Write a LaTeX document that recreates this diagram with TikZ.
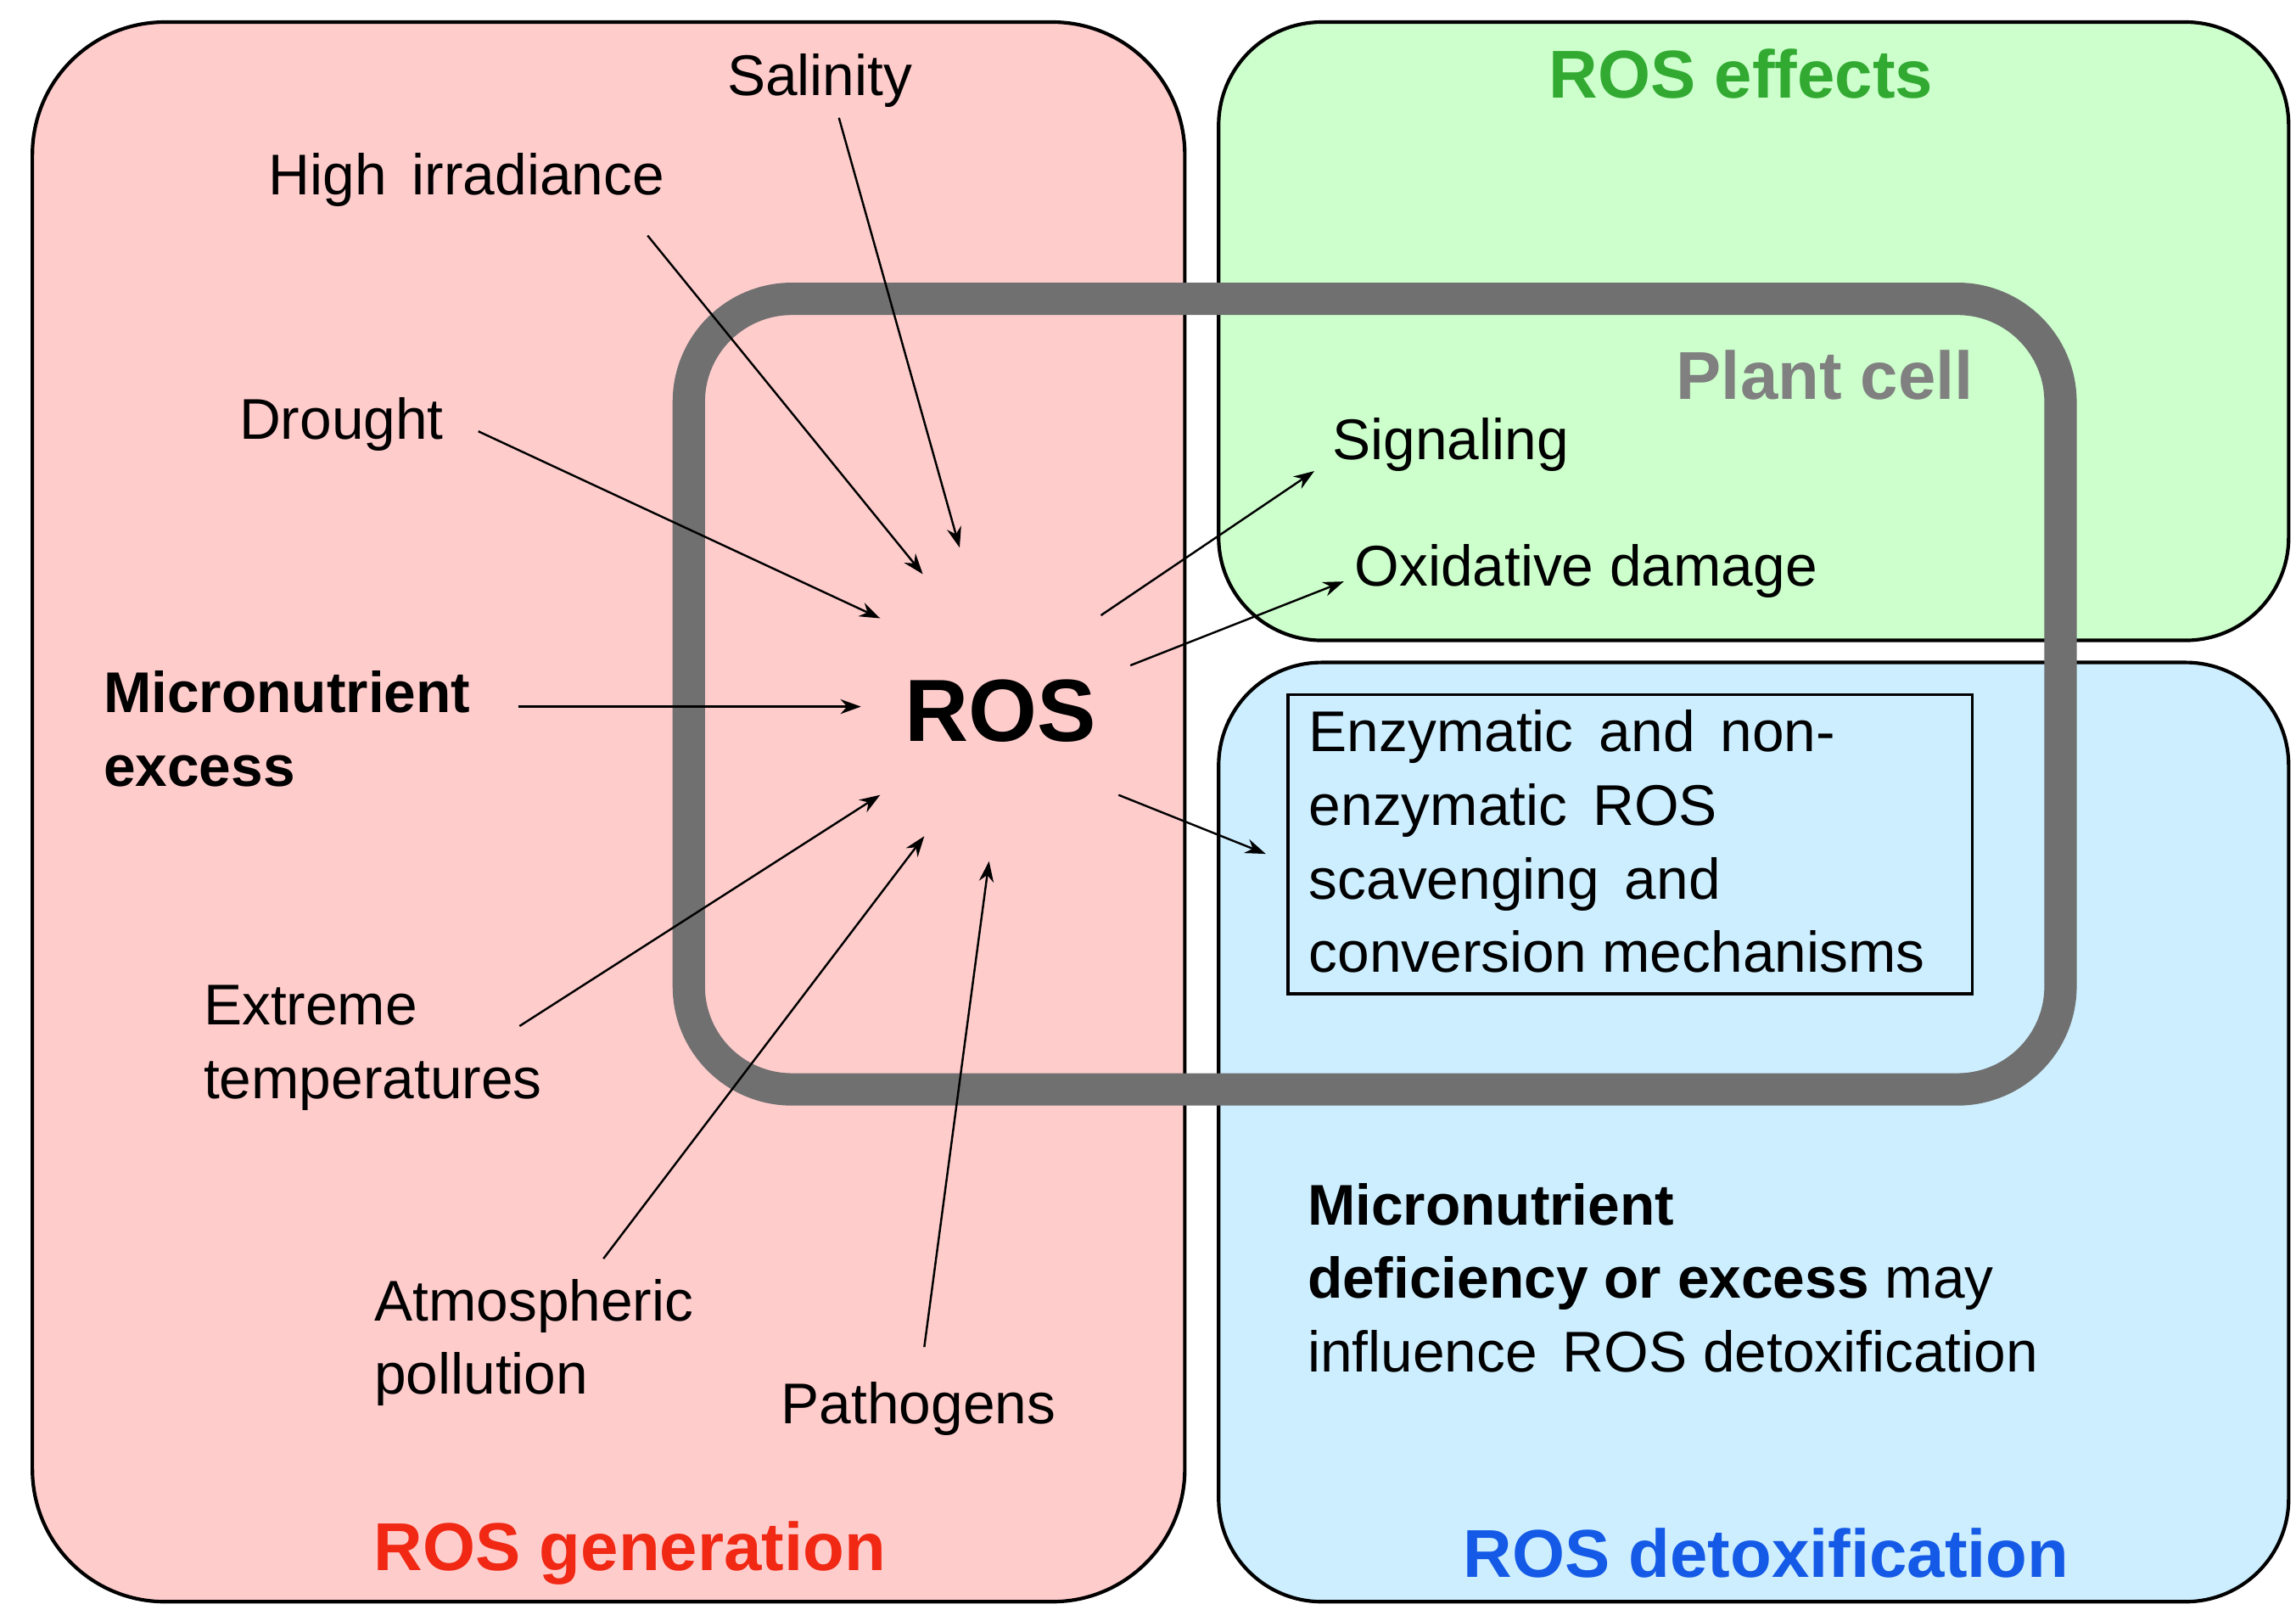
\documentclass[tikz,border=0pt]{standalone}
\usepackage{fontspec}
\setmainfont{Liberation Sans}
\usetikzlibrary{arrows.meta}
\begin{document}
\begin{tikzpicture}[x=0.5pt,y=-0.5pt,
  lbl/.style={font=\fontsize{19.5}{25}\selectfont,inner sep=0pt,align=left},
  ttl/.style={font=\fontsize{23}{26}\selectfont\bfseries,inner sep=0pt},
  arr/.style={-{Stealth[length=7pt,width=5pt]},line width=0.7pt}]
\useasboundingbox (0,0) rectangle (1560,1101);
\draw[fill={rgb,255:red,255;green,204;blue,204},line width=1.2pt,rounded corners=45pt] (22,15) rectangle (805,1088);
\draw[fill={rgb,255:red,204;green,255;blue,204},line width=1.2pt,rounded corners=35pt] (828,15) rectangle (1555,435);
\draw[fill={rgb,255:red,204;green,238;blue,255},line width=1.2pt,rounded corners=35pt] (828,450) rectangle (1555,1088);
\draw[draw={rgb,255:red,112;green,112;blue,112},line width=11pt,rounded corners=35pt] (468,203) rectangle (1400,740);
\node[ttl,text={rgb,255:red,50;green,170;blue,50}] (eff) at (1183,50) {ROS effects};
\node[ttl,text={rgb,255:red,240;green,40;blue,20}] (gen) at (428,1055) {ROS generation};
\node[ttl,text={rgb,255:red,20;green,90;blue,230}] (det) at (1200,1055) {ROS detoxification};
\node[ttl,text={rgb,255:red,128;green,128;blue,128}] (pc) at (1240,255) {Plant cell};
\node[font=\fontsize{30}{36}\selectfont\bfseries,inner sep=0pt] (ros) at (680,483) {ROS};
\node[lbl] (sal) at (557,55) {Salinity};
\node[lbl] (hi) at (317,122) {High\, irradiance};
\node[lbl] (dr) at (232,288) {Drought};
\node[lbl,anchor=west,font=\fontsize{19.5}{25}\selectfont\bfseries] (mic) at (70,495) {Micronutrient\\excess};
\node[lbl,anchor=west] (ext) at (138,712) {Extreme\\temperatures};
\node[lbl,anchor=west] (atm) at (254,912) {Atmospheric\\pollution};
\node[lbl] (pat) at (624,957) {Pathogens};
\node[lbl,anchor=west] (sig) at (905,302) {Signaling};
\node[lbl,anchor=west] (ox) at (920,388) {Oxidative damage};
\draw[line width=1pt] (875,472) rectangle (1340,675);
\node[lbl,anchor=north west] (box) at (889,482) {Enzymatic\, and\, non-\\enzymatic\, ROS\\scavenging\, and\\conversion mechanisms};
\node[lbl,anchor=west] (md) at (888,868) {\textbf{Micronutrient}\\\textbf{deficiency or excess} may\\influence\, ROS detoxification};
\coordinate (s1) at (570,80); \coordinate (s2) at (652,372);
\coordinate (h1) at (440,160); \coordinate (h2) at (627,390);
\coordinate (d1) at (325,293); \coordinate (d2) at (598,420);
\coordinate (m1) at (352,480); \coordinate (m2) at (585,480);
\coordinate (e1) at (353,697); \coordinate (e2) at (598,540);
\coordinate (a1) at (410,855); \coordinate (a2) at (628,568);
\coordinate (p1) at (628,915); \coordinate (p2) at (672,585);
\coordinate (r1) at (748,418); \coordinate (g1) at (893,320);
\coordinate (r2) at (768,452); \coordinate (o1) at (913,395);
\coordinate (r3) at (760,540); \coordinate (b1) at (860,580);
\draw[arr] (s1)--(s2); \draw[arr] (h1)--(h2); \draw[arr] (d1)--(d2);
\draw[arr] (m1)--(m2); \draw[arr] (e1)--(e2); \draw[arr] (a1)--(a2);
\draw[arr] (p1)--(p2); \draw[arr] (r1)--(g1); \draw[arr] (r2)--(o1);
\draw[arr] (r3)--(b1);
\end{tikzpicture}
\end{document}
